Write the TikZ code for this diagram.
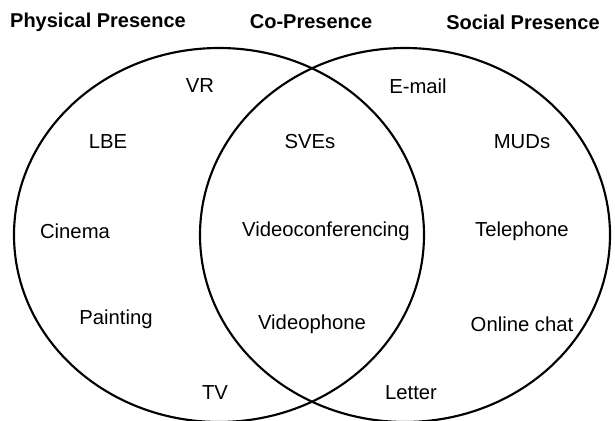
\documentclass[tikz,border=0pt]{standalone}
\usepackage{fontspec}
\setmainfont{Liberation Sans}
\begin{document}
\begin{tikzpicture}[x=0.75pt, y=-0.75pt, every node/.style={font=\fontsize{15.2}{18}\selectfont}]
\useasboundingbox (0,0) rectangle (615,421);

\begin{scope}[line width=1.6pt]
\draw (219,235) ellipse (205 and 187);
\draw (405,235) ellipse (205 and 187);
\end{scope}

\begin{scope}[every node/.style={font=\fontsize{15}{18}\selectfont\bfseries}]
\node (phys) at (98,22) {Physical Presence};
\node (copres) at (311,22) {Co-Presence};
\node (soc) at (523,22) {Social Presence};
\end{scope}

\node (vr) at (200,86) {VR};
\node (email) at (418,86) {E-mail};
\node (lbe) at (108,142) {LBE};
\node (sves) at (310,142) {SVEs};
\node (muds) at (522,142) {MUDs};
\node (cinema) at (75,231) {Cinema};
\node (vconf) at (326,231) {Videoconferencing};
\node (tel) at (522,231) {Telephone};
\node (paint) at (116,319) {Painting};
\node (vphone) at (312,324) {Videophone};
\node (chat) at (522,324) {Online chat};
\node (tv) at (215,393) {TV};
\node (letter) at (411,393) {Letter};

\end{tikzpicture}
\end{document}
